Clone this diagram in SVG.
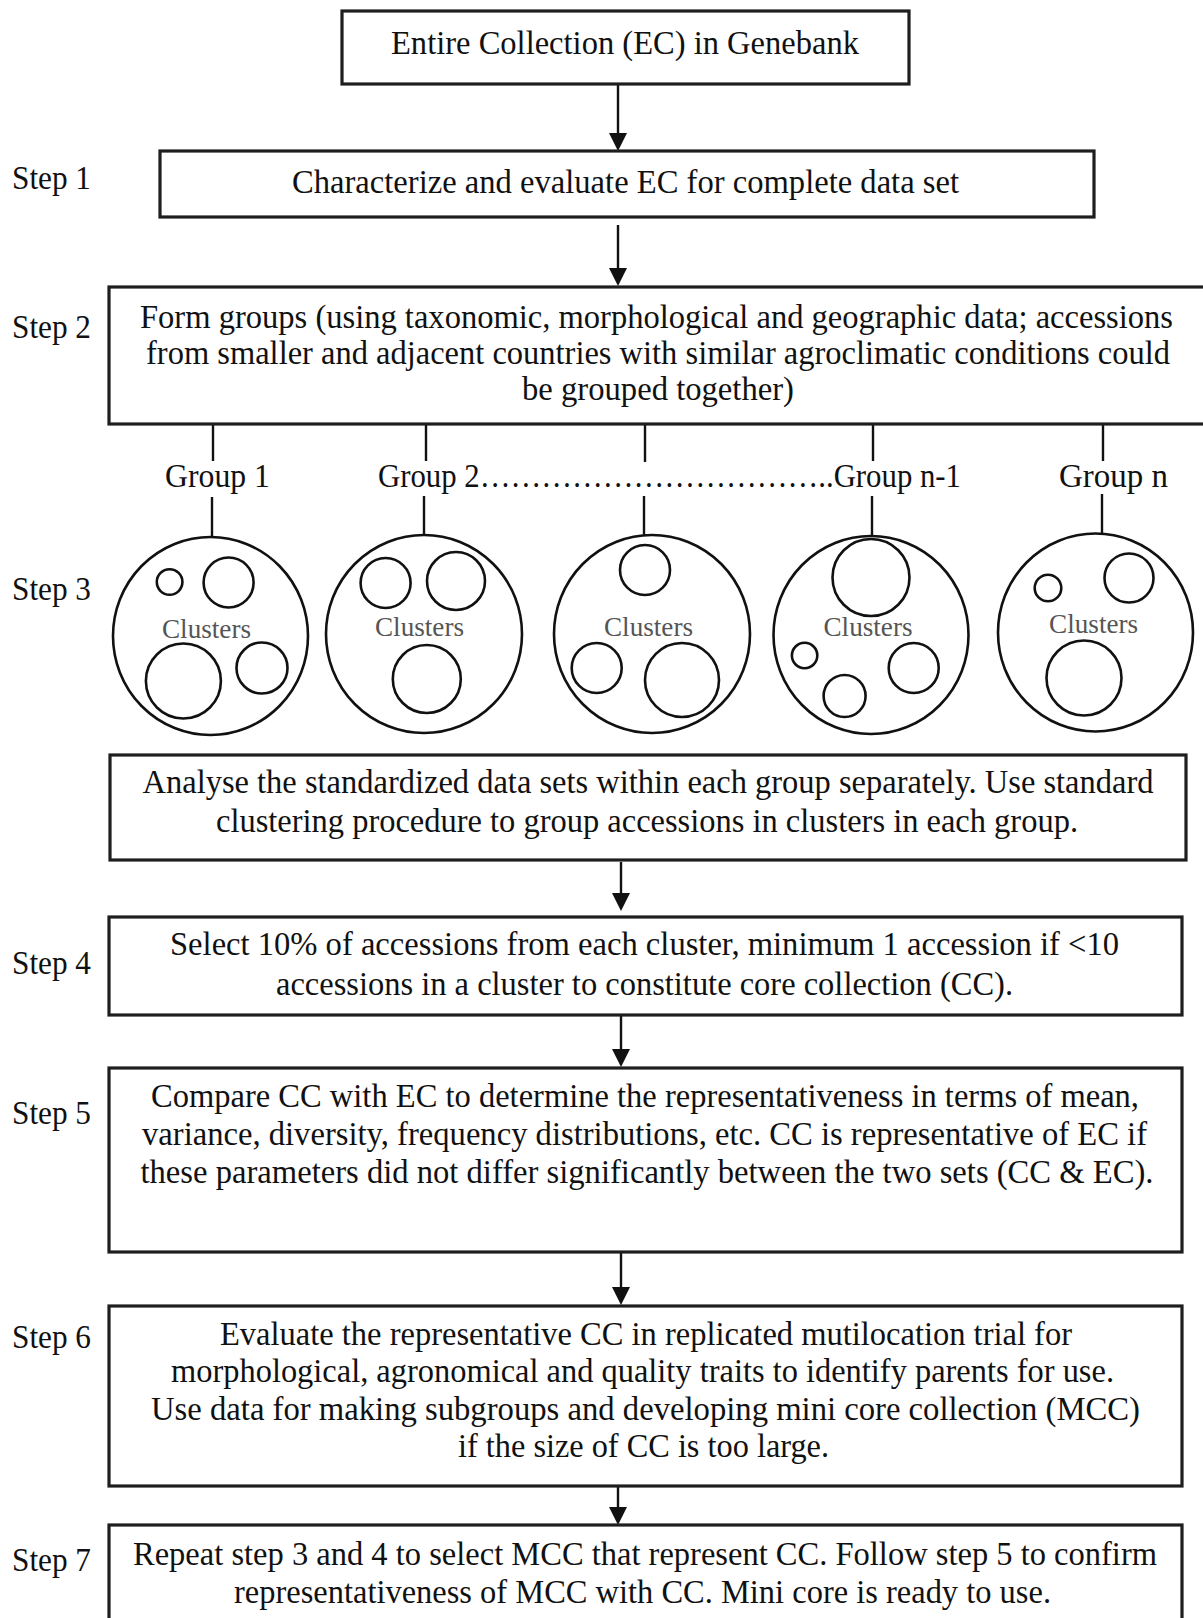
<svg xmlns="http://www.w3.org/2000/svg" width="1203" height="1618" viewBox="0 0 1203 1618">
<style>
.box{fill:#fff;stroke:#1e1e1e;stroke-width:3.2}
.t{font-family:"Liberation Serif","Times New Roman",serif;font-size:33.5px;fill:#111;text-anchor:middle}
.lbl{font-family:"Liberation Serif","Times New Roman",serif;font-size:33px;fill:#111}
.cl{font-family:"Liberation Serif","Times New Roman",serif;font-size:28px;fill:#555;text-anchor:middle}
.ring{fill:none;stroke:#111;stroke-width:2.6}
.conn{stroke:#111;stroke-width:2.4;fill:none}
</style>
<defs>
<marker id="ah" markerUnits="userSpaceOnUse" markerWidth="18" markerHeight="18" refX="12" refY="9" orient="auto">
<path d="M0,0 L18,9 L0,18 z" fill="#111"/>
</marker>
</defs>
<rect width="1203" height="1618" fill="#fff"/>

<g id="step-labels">
<text class="lbl" x="12" y="189" textLength="79" lengthAdjust="spacingAndGlyphs">Step 1</text>
<text class="lbl" x="12" y="338" textLength="79" lengthAdjust="spacingAndGlyphs">Step 2</text>
<text class="lbl" x="12" y="600" textLength="79" lengthAdjust="spacingAndGlyphs">Step 3</text>
<text class="lbl" x="12" y="974" textLength="79" lengthAdjust="spacingAndGlyphs">Step 4</text>
<text class="lbl" x="12" y="1124" textLength="79" lengthAdjust="spacingAndGlyphs">Step 5</text>
<text class="lbl" x="12" y="1348" textLength="79" lengthAdjust="spacingAndGlyphs">Step 6</text>
<text class="lbl" x="12" y="1571" textLength="79" lengthAdjust="spacingAndGlyphs">Step 7</text>
</g>

<g id="connectors">
<line class="conn" x1="618" y1="84" x2="618" y2="145" marker-end="url(#ah)"/>
<line class="conn" x1="618" y1="225" x2="618" y2="280" marker-end="url(#ah)"/>
<line class="conn" x1="621" y1="862" x2="621" y2="905" marker-end="url(#ah)"/>
<line class="conn" x1="621" y1="1016" x2="621" y2="1061" marker-end="url(#ah)"/>
<line class="conn" x1="621" y1="1253" x2="621" y2="1299" marker-end="url(#ah)"/>
<line class="conn" x1="618" y1="1487" x2="618" y2="1519" marker-end="url(#ah)"/>
<line class="conn" x1="213" y1="424" x2="213" y2="461"/>
<line class="conn" x1="426" y1="424" x2="426" y2="461"/>
<line class="conn" x1="645" y1="424" x2="645" y2="462"/>
<line class="conn" x1="873" y1="424" x2="873" y2="461"/>
<line class="conn" x1="1103" y1="424" x2="1103" y2="461"/>
<line class="conn" x1="212" y1="497" x2="212" y2="537"/>
<line class="conn" x1="424" y1="496" x2="424" y2="535"/>
<line class="conn" x1="644" y1="496" x2="644" y2="535"/>
<line class="conn" x1="872" y1="496" x2="872" y2="535"/>
<line class="conn" x1="1102" y1="494" x2="1102" y2="533"/>
</g>

<g id="node-ec">
<rect class="box" x="342" y="11" width="567" height="73"/>
<text class="t" x="625" y="54" textLength="468" lengthAdjust="spacingAndGlyphs">Entire Collection (EC) in Genebank</text>
</g>

<g id="node-step1">
<rect class="box" x="160" y="151" width="934" height="66"/>
<text class="t" x="625.5" y="193" textLength="667" lengthAdjust="spacingAndGlyphs">Characterize and evaluate EC for complete data set</text>
</g>

<g id="node-step2">
<rect class="box" x="109" y="287" width="1110" height="137"/>
<text class="t" x="656.5" y="328" textLength="1033" lengthAdjust="spacingAndGlyphs">Form groups (using taxonomic, morphological and geographic data; accessions</text>
<text class="t" x="658" y="364" textLength="1024" lengthAdjust="spacingAndGlyphs">from smaller and adjacent countries with similar agroclimatic conditions could</text>
<text class="t" x="658" y="400" textLength="272" lengthAdjust="spacingAndGlyphs">be grouped together)</text>
</g>

<g id="group-labels">
<text class="t" x="217.5" y="487" textLength="105" lengthAdjust="spacingAndGlyphs">Group 1</text>
<text class="t" x="669.5" y="487" textLength="583" lengthAdjust="spacingAndGlyphs">Group 2……………………………..Group n-1</text>
<text class="t" x="1113.5" y="487" textLength="109" lengthAdjust="spacingAndGlyphs">Group n</text>
</g>

<g id="group-1">
<ellipse class="ring" cx="210.5" cy="636" rx="97.5" ry="99"/>
<circle class="ring" cx="169.6" cy="582" r="12.8"/>
<circle class="ring" cx="228.6" cy="582.5" r="25"/>
<circle class="ring" cx="183.4" cy="681" r="37.5"/>
<circle class="ring" cx="262" cy="668" r="25.5"/>
<text class="cl" x="206.5" y="638" textLength="89" lengthAdjust="spacingAndGlyphs">Clusters</text>
</g>

<g id="group-2">
<ellipse class="ring" cx="424" cy="634" rx="98" ry="99"/>
<circle class="ring" cx="385.6" cy="583" r="25"/>
<circle class="ring" cx="456" cy="581" r="29"/>
<circle class="ring" cx="426.8" cy="679" r="34"/>
<text class="cl" x="419.5" y="636" textLength="89" lengthAdjust="spacingAndGlyphs">Clusters</text>
</g>

<g id="group-3">
<ellipse class="ring" cx="652" cy="634" rx="98" ry="99"/>
<circle class="ring" cx="645" cy="570" r="25"/>
<circle class="ring" cx="596.7" cy="668" r="25"/>
<circle class="ring" cx="682" cy="680" r="37"/>
<text class="cl" x="648.5" y="636" textLength="89" lengthAdjust="spacingAndGlyphs">Clusters</text>
</g>

<g id="group-4">
<ellipse class="ring" cx="871" cy="635" rx="97.5" ry="99"/>
<circle class="ring" cx="871" cy="577.5" r="38.5"/>
<circle class="ring" cx="804.6" cy="655.5" r="12.7"/>
<circle class="ring" cx="844.6" cy="696" r="21"/>
<circle class="ring" cx="913.7" cy="668" r="25"/>
<text class="cl" x="868" y="636" textLength="89" lengthAdjust="spacingAndGlyphs">Clusters</text>
</g>

<g id="group-n">
<ellipse class="ring" cx="1095.5" cy="632.5" rx="97.5" ry="99"/>
<circle class="ring" cx="1048" cy="588" r="13.3"/>
<circle class="ring" cx="1129" cy="578" r="24.5"/>
<circle class="ring" cx="1084" cy="678" r="37.5"/>
<text class="cl" x="1093.6" y="633" textLength="89" lengthAdjust="spacingAndGlyphs">Clusters</text>
</g>

<g id="node-analyse">
<rect class="box" x="110" y="755" width="1076" height="105"/>
<text class="t" x="648" y="793" textLength="1011" lengthAdjust="spacingAndGlyphs">Analyse the standardized data sets within each group separately. Use standard</text>
<text class="t" x="647" y="832" textLength="862" lengthAdjust="spacingAndGlyphs">clustering procedure to group accessions in clusters in each group.</text>
</g>

<g id="node-step4">
<rect class="box" x="109" y="917" width="1073" height="98"/>
<text class="t" x="644.5" y="955" textLength="949" lengthAdjust="spacingAndGlyphs">Select 10% of accessions from each cluster, minimum 1 accession if &lt;10</text>
<text class="t" x="644.5" y="995" textLength="737" lengthAdjust="spacingAndGlyphs">accessions in a cluster to constitute core collection (CC).</text>
</g>

<g id="node-step5">
<rect class="box" x="109" y="1068" width="1073" height="184"/>
<text class="t" x="645" y="1107" textLength="988" lengthAdjust="spacingAndGlyphs">Compare CC with EC to determine the representativeness in terms of mean,</text>
<text class="t" x="644.5" y="1145" textLength="1005" lengthAdjust="spacingAndGlyphs">variance, diversity, frequency distributions, etc. CC is representative of EC if</text>
<text class="t" x="647" y="1183" textLength="1013" lengthAdjust="spacingAndGlyphs">these parameters did not differ significantly between the two sets (CC &amp; EC).</text>
</g>

<g id="node-step6">
<rect class="box" x="109" y="1306" width="1073" height="180"/>
<text class="t" x="646" y="1345" textLength="852" lengthAdjust="spacingAndGlyphs">Evaluate the representative CC in replicated mutilocation trial for</text>
<text class="t" x="642.5" y="1382" textLength="943" lengthAdjust="spacingAndGlyphs">morphological, agronomical and quality traits to identify parents for use.</text>
<text class="t" x="645.5" y="1420" textLength="989" lengthAdjust="spacingAndGlyphs">Use data for making subgroups and developing mini core collection (MCC)</text>
<text class="t" x="643.5" y="1457" textLength="371" lengthAdjust="spacingAndGlyphs">if the size of CC is too large.</text>
</g>

<g id="node-step7">
<rect class="box" x="109" y="1525" width="1073" height="110"/>
<text class="t" x="645" y="1565" textLength="1024" lengthAdjust="spacingAndGlyphs">Repeat step 3 and 4 to select MCC that represent CC. Follow step 5 to confirm</text>
<text class="t" x="642.5" y="1603" textLength="817" lengthAdjust="spacingAndGlyphs">representativeness of MCC with CC. Mini core is ready to use.</text>
</g>
</svg>
